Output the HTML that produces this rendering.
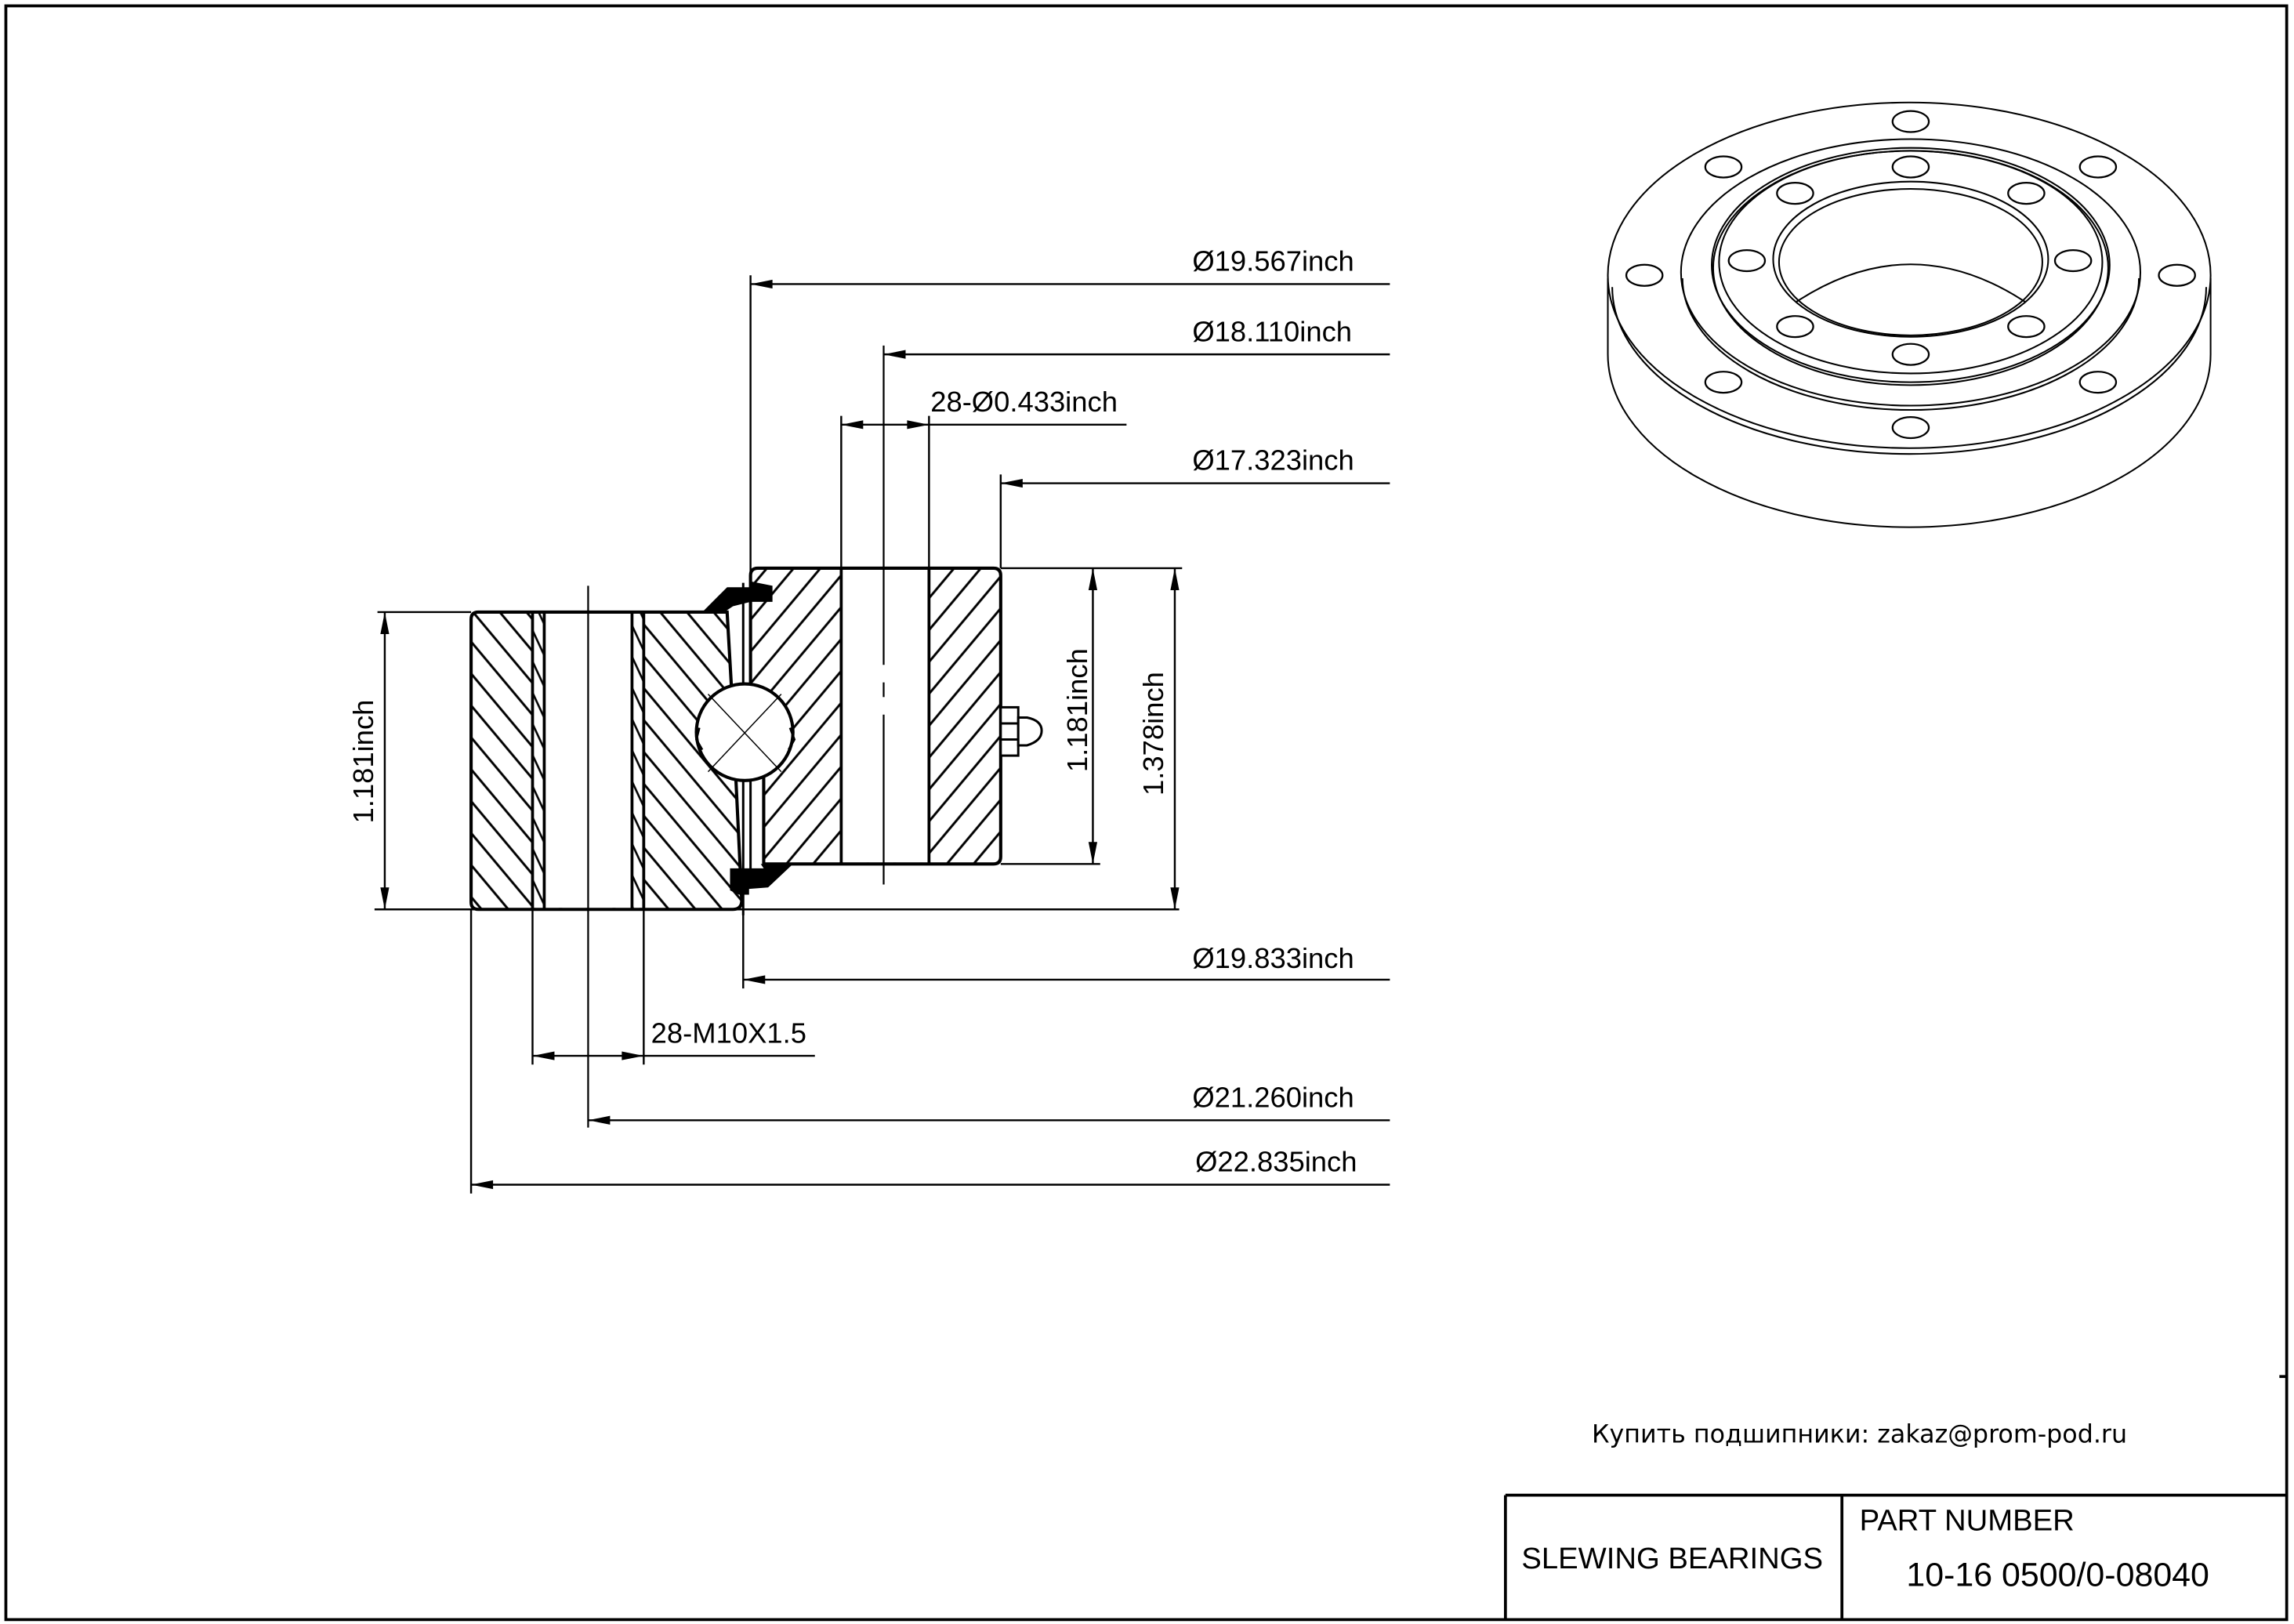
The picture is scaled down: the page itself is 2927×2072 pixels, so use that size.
<!DOCTYPE html>
<html><head><meta charset="utf-8"><style>
html,body{margin:0;padding:0;background:#fff;}
svg{display:block;}
text{font-family:"Liberation Sans",sans-serif;fill:#000;}
</style></head><body>
<svg width="2927" height="2072" viewBox="0 0 1568 1109" preserveAspectRatio="none" xmlns="http://www.w3.org/2000/svg">
<defs>
<pattern id="hb" width="14" height="14" patternUnits="userSpaceOnUse" patternTransform="rotate(-40)"><line x1="7" y1="0" x2="7" y2="14" stroke="#000" stroke-width="1.6"/></pattern>
<pattern id="hf" width="14" height="14" patternUnits="userSpaceOnUse" patternTransform="rotate(40)"><line x1="7" y1="0" x2="7" y2="14" stroke="#000" stroke-width="1.6"/></pattern>
<pattern id="hn" width="9" height="9" patternUnits="userSpaceOnUse" patternTransform="rotate(-25)"><line x1="4" y1="0" x2="4" y2="9" stroke="#000" stroke-width="1.4"/></pattern>
</defs>
<rect x="0" y="0" width="1568" height="1109" fill="#fff"/>
<rect x="4" y="4" width="1559" height="1102" fill="none" stroke="#000" stroke-width="2"/>
<!-- title block -->
<line x1="1029" y1="1021" x2="1563" y2="1021" stroke="#000" stroke-width="2"/>
<line x1="1029" y1="1021" x2="1029" y2="1106" stroke="#000" stroke-width="2"/>
<line x1="1259" y1="1021" x2="1259" y2="1106" stroke="#000" stroke-width="2"/>
<line x1="1558" y1="940" x2="1563" y2="940" stroke="#000" stroke-width="2"/>
<text x="1040" y="1071" font-size="20.5">SLEWING BEARINGS</text>
<text x="1271" y="1045" font-size="20.5">PART  NUMBER</text>
<text x="1303" y="1083" font-size="23">10-16 0500/0-08040</text>
<text x="1088" y="985" font-size="17" style="font-family:'DejaVu Sans',sans-serif">Купить подшипники: zakaz@prom-pod.ru</text>

<!-- 3D view -->
<g fill="none" stroke="#000" stroke-width="1.1">
<path d="M1099,190 V242 A206,118 0 0 0 1511,242 V190"/>
<ellipse cx="1305" cy="188" rx="206" ry="118"/>
<path d="M1102,196 A203,114 0 0 0 1508,196"/>
<ellipse cx="1306" cy="186" rx="157" ry="91"/>
<path d="M1150,190 A156,90 0 0 0 1462,190"/>
<ellipse cx="1306" cy="181" rx="136" ry="80"/>
<ellipse cx="1306" cy="183" rx="135" ry="80"/>
<ellipse cx="1306" cy="179" rx="131" ry="76"/>
<ellipse cx="1306" cy="177" rx="94" ry="53"/>
<ellipse cx="1306" cy="179" rx="90" ry="50"/>
<path d="M1228,206 Q1306,155 1384,206"/>
<g stroke-width="1.2">
<ellipse cx="1306" cy="83" rx="12.4" ry="7.2"/>
<ellipse cx="1178" cy="114" rx="12.4" ry="7.2"/>
<ellipse cx="1434" cy="114" rx="12.4" ry="7.2"/>
<ellipse cx="1124" cy="188" rx="12.4" ry="7.2"/>
<ellipse cx="1488" cy="188" rx="12.4" ry="7.2"/>
<ellipse cx="1178" cy="261" rx="12.4" ry="7.2"/>
<ellipse cx="1434" cy="261" rx="12.4" ry="7.2"/>
<ellipse cx="1306" cy="292" rx="12.4" ry="7.2"/>
<ellipse cx="1306" cy="114" rx="12.4" ry="7.2"/>
<ellipse cx="1227" cy="132" rx="12.4" ry="7.2"/>
<ellipse cx="1385" cy="132" rx="12.4" ry="7.2"/>
<ellipse cx="1194" cy="178" rx="12.4" ry="7.2"/>
<ellipse cx="1417" cy="178" rx="12.4" ry="7.2"/>
<ellipse cx="1227" cy="223" rx="12.4" ry="7.2"/>
<ellipse cx="1385" cy="223" rx="12.4" ry="7.2"/>
<ellipse cx="1306" cy="242" rx="12.4" ry="7.2"/>
</g>
</g>

<!-- cross section: outer ring (left) -->
<path d="M327,418 H497 L500,470 L507,615 Q507,621 501,621 H327 Q322,621 322,616 V423 Q322,418 327,418 Z" fill="url(#hb)" stroke="none"/>
<rect x="364" y="419" width="8" height="201" fill="#fff"/>
<rect x="364" y="419" width="8" height="201" fill="url(#hn)"/>
<rect x="432" y="419" width="8" height="201" fill="#fff"/>
<rect x="432" y="419" width="8" height="201" fill="url(#hn)"/>
<rect x="372" y="419" width="60" height="201" fill="#fff"/>
<path d="M327,418 H497 L500,470 L507,615 Q507,621 501,621 H327 Q322,621 322,616 V423 Q322,418 327,418 Z" fill="none" stroke="#000" stroke-width="2.2"/>
<g stroke="#000" stroke-width="2"><line x1="364" y1="418" x2="364" y2="621"/><line x1="372" y1="418" x2="372" y2="621"/><line x1="432" y1="418" x2="432" y2="621"/><line x1="440" y1="418" x2="440" y2="621"/></g>

<!-- inner ring (right) -->
<path d="M518,388 H679 Q684,388 684,393 V585 Q684,590 679,590 H522 V520 L513,470 V393 Q513,388 518,388 Z" fill="url(#hf)"/>
<rect x="575" y="389" width="60" height="200" fill="#fff"/>
<path d="M518,388 H679 Q684,388 684,393 V585 Q684,590 679,590 H522 V520 L513,470 V393 Q513,388 518,388 Z" fill="none" stroke="#000" stroke-width="2.2"/>
<g stroke="#000" stroke-width="2"><line x1="575" y1="388" x2="575" y2="590"/><line x1="635" y1="388" x2="635" y2="590"/></g>

<!-- gap lines -->
<line x1="508" y1="398" x2="508" y2="625" stroke="#000" stroke-width="1.6"/>
<line x1="513" y1="448" x2="513" y2="605" stroke="#000" stroke-width="1.6"/>

<!-- ball -->
<circle cx="509" cy="500" r="33" fill="#fff" stroke="#000" stroke-width="2.2"/>
<path d="M478,497 L476,505 L480,512 M540,497 L543,505 L539,512" fill="none" stroke="#000" stroke-width="1.5"/>
<line x1="484" y1="474" x2="534" y2="527" stroke="#000" stroke-width="0.8"/>
<line x1="534" y1="474" x2="484" y2="527" stroke="#000" stroke-width="0.8"/>

<!-- seals -->
<path d="M480,418 L497,401 L513,401 L513,397 L528,400 L528,411 L513,411 L501,414 L495,418 Z" fill="#000"/>
<path d="M499,593 L522,593 L520,590 L542,590 L525,606 L512,607 L512,611 L505,611 L499,608 Z" fill="#000"/>

<!-- grease nipple -->
<g fill="#fff" stroke="#000" stroke-width="1.6">
<rect x="684" y="483" width="12" height="33"/>
<line x1="684" y1="494" x2="696" y2="494"/><line x1="684" y1="505" x2="696" y2="505"/>
<path d="M696,490 H702 Q712,492 712,499 Q712,506 702,509 H696 Z"/>
</g>

<!-- center lines -->
<line x1="402" y1="400" x2="402" y2="770" stroke="#000" stroke-width="1.2"/>
<line x1="604" y1="236" x2="604" y2="454" stroke="#000" stroke-width="1.2"/>
<line x1="604" y1="466" x2="604" y2="476" stroke="#000" stroke-width="1.2"/>
<line x1="604" y1="488" x2="604" y2="604" stroke="#000" stroke-width="1.2"/>

<!-- dimension lines -->
<g stroke="#000" stroke-width="1.3" fill="none">
<line x1="513" y1="194" x2="950" y2="194"/><line x1="513" y1="188" x2="513" y2="398"/>
<line x1="604" y1="242" x2="950" y2="242"/>
<line x1="575" y1="290" x2="770" y2="290"/><line x1="575" y1="284" x2="575" y2="388"/><line x1="635" y1="284" x2="635" y2="388"/>
<line x1="684" y1="330" x2="950" y2="330"/><line x1="684" y1="324" x2="684" y2="388"/>
<line x1="508" y1="669" x2="950" y2="669"/><line x1="508" y1="621" x2="508" y2="675"/>
<line x1="364" y1="721" x2="557" y2="721"/><line x1="364" y1="621" x2="364" y2="727"/><line x1="440" y1="621" x2="440" y2="727"/>
<line x1="402" y1="765" x2="950" y2="765"/>
<line x1="322" y1="809" x2="950" y2="809"/><line x1="322" y1="621" x2="322" y2="815"/>
<line x1="258" y1="418" x2="322" y2="418"/><line x1="256" y1="621" x2="806" y2="621"/>
<line x1="263" y1="418" x2="263" y2="621"/>
<line x1="684" y1="388" x2="808" y2="388"/><line x1="684" y1="590" x2="752" y2="590"/>
<line x1="747" y1="388" x2="747" y2="590"/>
<line x1="803" y1="388" x2="803" y2="621"/>
</g>
<g fill="#000">
<polygon points="513,194 528,191 528,197"/>
<polygon points="604,242 619,239 619,245"/>
<polygon points="575,290 590,287 590,293"/>
<polygon points="635,290 620,287 620,293"/>
<polygon points="684,330 699,327 699,333"/>
<polygon points="508,669 523,666 523,672"/>
<polygon points="364,721 379,718 379,724"/>
<polygon points="440,721 425,718 425,724"/>
<polygon points="402,765 417,762 417,768"/>
<polygon points="322,809 337,806 337,812"/>
<polygon points="263,418 260,433 266,433"/>
<polygon points="263,621 260,606 266,606"/>
<polygon points="747,388 744,403 750,403"/>
<polygon points="747,590 744,575 750,575"/>
<polygon points="803,388 800,403 806,403"/>
<polygon points="803,621 800,606 806,606"/>
</g>
<g font-size="19.5">
<text x="815" y="185">Ø19.567inch</text>
<text x="815" y="233">Ø18.110inch</text>
<text x="636" y="281">28-Ø0.433inch</text>
<text x="815" y="321">Ø17.323inch</text>
<text x="815" y="661">Ø19.833inch</text>
<text x="445" y="712">28-M10X1.5</text>
<text x="815" y="756">Ø21.260inch</text>
<text x="817" y="800">Ø22.835inch</text>
<text transform="translate(255,520) rotate(-90)" text-anchor="middle">1.181inch</text>
<text transform="translate(743,485) rotate(-90)" text-anchor="middle">1.181inch</text>
<text transform="translate(795,501) rotate(-90)" text-anchor="middle">1.378inch</text>
</g>
</svg>
</body></html>
